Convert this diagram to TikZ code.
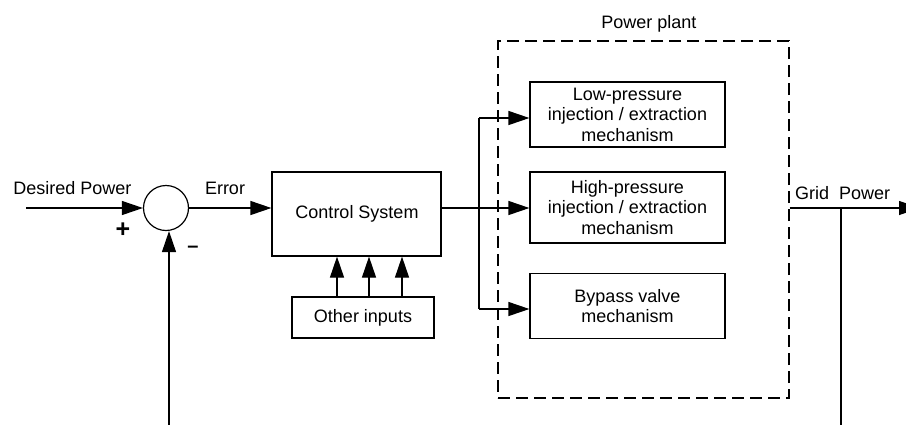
\documentclass[tikz,border=0pt]{standalone}
\usepackage{fontspec}
\setmainfont{Liberation Sans}
\usetikzlibrary{arrows.meta}
\begin{document}
\begin{tikzpicture}[x=1bp,y=-1bp,
  every node/.style={font=\fontsize{18bp}{20.5bp}\selectfont, inner sep=0pt},
  blk/.style={draw, line width=1.2bp, align=center},
  ln/.style={line width=1.2bp},
  conn/.style={line width=1.2bp, -{Triangle[length=21bp,width=14bp]}},
  plantbox/.style={draw, line width=1.1bp, dash pattern=on 12bp off 6bp},
  lbl/.style={anchor=base}]
\useasboundingbox (0,0) rectangle (906,424);
% blocks
\node[draw, circle, line width=1.2bp, minimum size=45bp] (sum) at (166,208) {};
\node[blk, minimum width=169bp, minimum height=84bp] (ctrl) at (356.5,214) {};
\node[lbl] (ctrltxt) at (357,218) {Control System};
\node[blk, minimum width=142bp, minimum height=41bp] (oth) at (363,317.5) {Other inputs};
\node[plantbox, minimum width=291bp, minimum height=357bp] (plant) at (643.5,219.5) {};
\node[lbl] (planttxt) at (649,28) {Power plant};
\node[blk, minimum width=195bp, minimum height=65bp] (lp) at (627.5,114.5) {Low-pressure\\injection / extraction\\mechanism};
\node[blk, minimum width=195bp, minimum height=71bp] (hp) at (627.5,207.5) {High-pressure\\injection / extraction\\mechanism};
\node[blk, minimum width=195bp, minimum height=65bp] (bp) at (627.5,306) {Bypass valve\\mechanism};
% labels
\node[lbl] (dptxt) at (72.5,194) {Desired Power};
\node[lbl] (errtxt) at (225,194) {Error};
\node[lbl, anchor=west] (gridtxt) at (795,193) {Grid\ \ Power};
\node[font=\fontsize{25bp}{26bp}\selectfont\bfseries] (plus) at (123,230) {+};
\node[font=\fontsize{20bp}{22bp}\selectfont\bfseries] (minus) at (193,249) {–};
% coordinates
\coordinate (dpstart) at (26,208);
\coordinate (blp) at (479,118);
\coordinate (bbp) at (479,309);
\coordinate (t1) at (337,0);
\coordinate (t2) at (369,0);
\coordinate (t3) at (402,0);
\coordinate (gend) at (920,208);
\coordinate (fbr) at (841,208);
\coordinate (fbrb) at (841,430);
\coordinate (fbl) at (169,430);
% connectors
\draw[conn] (dpstart) -- (sum.west);
\draw[conn] (sum.east) -- (sum.east -| ctrl.west);
\draw[conn] (ctrl.east |- sum) -- (hp.west |- sum);
\draw[ln] (blp) -- (bbp);
\draw[conn] (blp) -- (blp -| lp.west);
\draw[conn] (bbp) -- (bbp -| bp.west);
\foreach \t in {t1,t2,t3} \draw[conn] (oth.north -| \t) -- (ctrl.south -| \t);
\draw[conn] (plant.east |- sum) -- (gend);
\draw[ln] (fbr) -- (fbrb);
\draw[conn] (fbl) -- (fbl |- sum.south);
\end{tikzpicture}
\end{document}
